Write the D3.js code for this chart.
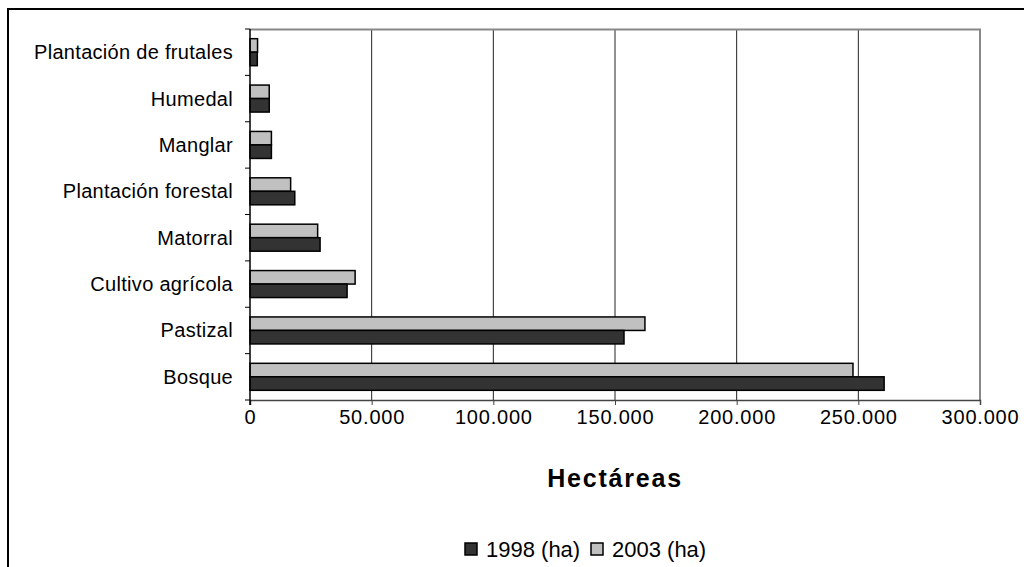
<!DOCTYPE html>
<html>
<head>
<meta charset="utf-8">
<script src="https://cdn.jsdelivr.net/npm/d3@7"></script>
<style>
  body { margin: 0; background: #fff; }
  svg { font-family: "Liberation Sans", Arial, sans-serif; }
</style>
</head>
<body>
<div id="chart"></div>
<script>
var svgWidth = 1024;
var svgHeight = 567;

// data
var categories = ["Plantación de frutales", "Humedal", "Manglar", "Plantación forestal",
                  "Matorral", "Cultivo agrícola", "Pastizal", "Bosque"];
var values1998 = [3000, 7900, 8800, 18400, 28800, 39900, 153700, 260600];
var values2003 = [3100, 7900, 8800, 16700, 27800, 43200, 162300, 247800];
var seriesNames = ["1998 (ha)", "2003 (ha)"];
var seriesColors = ["#333333", "#c0c0c0"];
var xTicks = [0, 50000, 100000, 150000, 200000, 250000, 300000];

var margin = { top: 29, right: 44, bottom: 167, left: 250 };
var width = svgWidth - margin.left - margin.right;
var height = svgHeight - margin.top - margin.bottom;

var svg = d3.select("#chart")
    .append("svg")
    .attr("width", svgWidth)
    .attr("height", svgHeight);

// outer frame (only top and left visible)
svg.append("rect")
    .attr("x", 8).attr("y", 9)
    .attr("width", svgWidth + 10).attr("height", svgHeight + 10)
    .attr("fill", "none")
    .attr("stroke", "#000")
    .attr("stroke-width", 2);

var chartGroup = svg.append("g")
    .attr("transform", `translate(${margin.left}, ${margin.top})`);

var xScale = d3.scaleLinear()
    .domain([0, 300000])
    .range([0, width]);

var yScale = d3.scaleBand()
    .domain(categories)
    .range([0, height]);

var fmt = d => d === 0 ? "0" : d3.format(",")(d).replace(/,/g, ".");

// gridlines
chartGroup.selectAll(".grid")
    .data(xTicks.slice(1, -1))
    .enter()
    .append("line")
    .attr("x1", d => xScale(d)).attr("x2", d => xScale(d))
    .attr("y1", 0).attr("y2", height)
    .attr("stroke", "#222")
    .attr("stroke-width", 1);

// plot border top/right (gray)
chartGroup.append("path")
    .attr("d", `M0,0.5H${width}V${height}`)
    .attr("fill", "none")
    .attr("stroke", "#888")
    .attr("stroke-width", 2);

// bars
var barH = 13.5;
var rows = categories.map((c, i) => ({ cat: c, v: [values1998[i], values2003[i]] }));

rows.forEach(function(r) {
    var mid = yScale(r.cat) + yScale.bandwidth() / 2;
    // 2003 on top, 1998 below
    chartGroup.append("rect")
        .attr("x", xScale(0))
        .attr("y", mid - barH)
        .attr("width", xScale(r.v[1]))
        .attr("height", barH)
        .attr("fill", seriesColors[1])
        .attr("stroke", "#000")
        .attr("stroke-width", 1.5);
    chartGroup.append("rect")
        .attr("x", xScale(0))
        .attr("y", mid)
        .attr("width", xScale(r.v[0]))
        .attr("height", barH)
        .attr("fill", seriesColors[0])
        .attr("stroke", "#000")
        .attr("stroke-width", 1.5);
});

// x axis
var bottomAxis = d3.axisBottom(xScale)
    .tickValues(xTicks)
    .tickFormat(fmt)
    .tickSizeOuter(0)
    .tickSize(5)
    .tickPadding(5);

var xAxisG = chartGroup.append("g")
    .attr("transform", `translate(0, ${height})`)
    .call(bottomAxis);
xAxisG.select(".domain").attr("stroke", "#444").attr("stroke-width", 1.5);
xAxisG.selectAll(".tick line").attr("stroke", "#444");
xAxisG.selectAll("text")
    .attr("font-size", 20)
    .attr("letter-spacing", 0.8)
    .attr("fill", "#000")
    .attr("font-family", "Liberation Sans, Arial, sans-serif");

// y axis: ticks at category boundaries
chartGroup.append("line")
    .attr("x1", 0).attr("x2", 0)
    .attr("y1", 0).attr("y2", height + 5)
    .attr("stroke", "#000").attr("stroke-width", 1.5);

chartGroup.selectAll(".ytick")
    .data(d3.range(categories.length + 1))
    .enter()
    .append("line")
    .attr("x1", -5).attr("x2", 0)
    .attr("y1", i => i * yScale.step())
    .attr("y2", i => i * yScale.step())
    .attr("stroke", "#000");

chartGroup.selectAll(".ylab")
    .data(categories)
    .enter()
    .append("text")
    .attr("x", -17)
    .attr("y", d => yScale(d) + yScale.bandwidth() / 2)
    .attr("dy", "0.35em")
    .attr("text-anchor", "end")
    .attr("font-size", 20)
    .attr("letter-spacing", 0.3)
    .text(d => d);

// axis title
chartGroup.append("text")
    .attr("x", width / 2)
    .attr("y", height + 87)
    .attr("text-anchor", "middle")
    .attr("font-size", 25)
    .attr("font-weight", "bold")
    .attr("letter-spacing", 1.8)
    .text("Hectáreas");

// legend
var legend = svg.append("g")
    .attr("transform", "translate(465, 549)");

var legendX = [0, 126];
seriesNames.forEach(function(name, i) {
    legend.append("rect")
        .attr("x", legendX[i])
        .attr("y", -6)
        .attr("width", 12).attr("height", 12)
        .attr("fill", seriesColors[i])
        .attr("stroke", "#000")
        .attr("stroke-width", 1.5);
    legend.append("text")
        .attr("x", legendX[i] + 21)
        .attr("y", 0)
        .attr("dy", "0.36em")
        .attr("font-size", 22)
        .text(name);
});
</script>
</body>
</html>
